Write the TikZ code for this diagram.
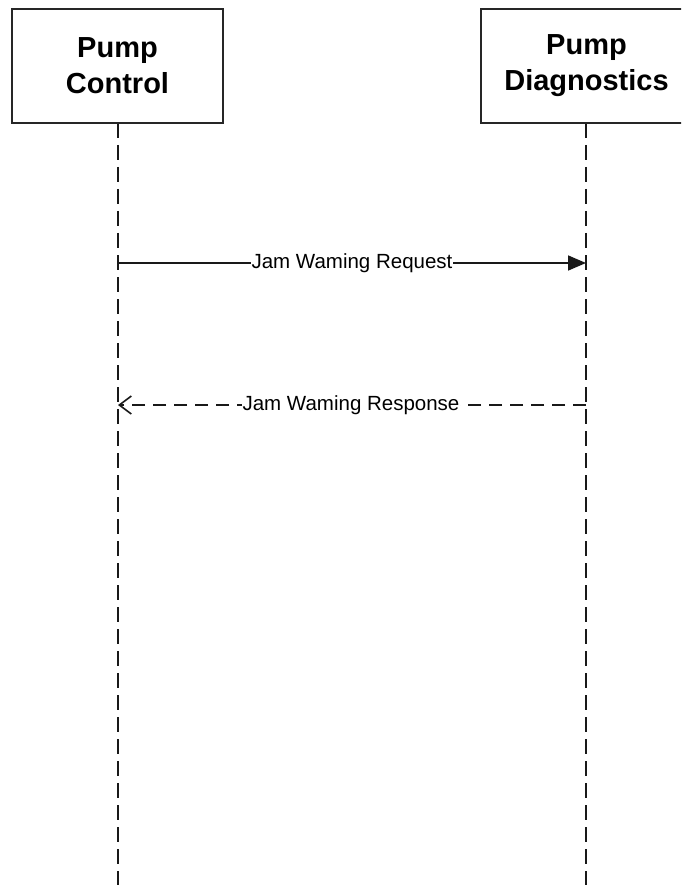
\documentclass[tikz,border=0pt]{standalone}
\usepackage{fontspec}
\setmainfont{Liberation Sans}
\usetikzlibrary{arrows.meta}
\begin{document}
\begin{tikzpicture}[x=1pt,y=-1pt,
  lifebox/.style={draw=black!85,line width=1.8pt,fill=white,minimum width=211pt,minimum height=114pt,
    font=\fontsize{29}{36}\selectfont\bfseries,align=center,inner sep=0pt},
  lifeline/.style={draw=black!90,line width=1.8pt,dash pattern=on 15pt off 7pt},
  msglabel/.style={fill=white,font=\fontsize{20.5}{24}\selectfont,inner sep=1pt},
  reqarrow/.style={draw=black!90,line width=1.6pt,-{Triangle[length=18pt,width=15pt]}},
  resparrow/.style={draw=black!90,line width=1.6pt,dash pattern=on 13pt off 8pt,-{Straight Barb[length=12pt,width=18pt,line width=1.6pt]}}
]
\useasboundingbox (0,0) rectangle (681,885);
\clip (0,0) rectangle (681,885);
\fill[white] (0,0) rectangle (681,885);
% lifelines
\coordinate (ctop) at (118,123);
\coordinate (cbot) at (118,890);
\coordinate (dtop) at (586,123);
\coordinate (dbot) at (586,890);
\draw[lifeline] (ctop) -- (cbot);
\draw[lifeline] (dtop) -- (dbot);
% boxes
\node[lifebox] (ctrl) at (117.5,66) {Pump\\Control};
\node[lifebox] (diag) at (586.5,66) {Pump\\Diagnostics};
% message anchors
\coordinate (c1) at (118,263);
\coordinate (d1) at (586,263);
\coordinate (c2) at (118,405);
\coordinate (d2) at (586,405);
\draw[reqarrow] (c1) -- (d1);
\node[msglabel] (req) at (352,263) {Jam Waming Request};
\draw[resparrow] (d2) -- (c2);
\node[msglabel] (resp) at (351,405) {Jam Waming Response};
\end{tikzpicture}
\end{document}
